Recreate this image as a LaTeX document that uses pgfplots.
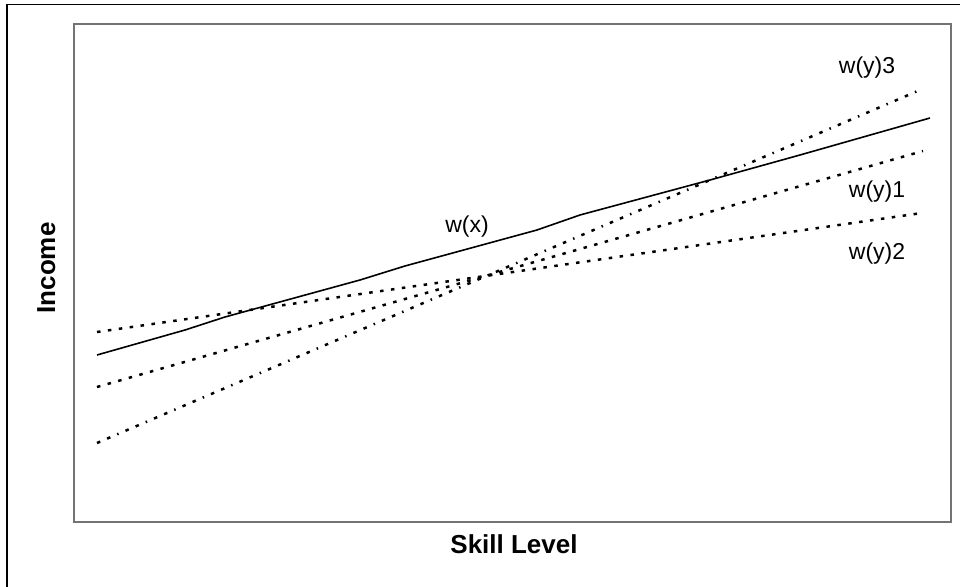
\documentclass[border=0pt]{standalone}
\usepackage{pgfplots}
\pgfplotsset{compat=1.18}
\usepackage{fontspec}
\setmainfont{Liberation Sans}
\begin{document}
\begin{tikzpicture}[x=1pt,y=1pt]
\useasboundingbox (0,0) rectangle (960,586);
\clip (0,0) rectangle (960,586);
\draw[black,line width=1.5pt] (7,-2) -- (7,581.5) -- (962,581.5);
\begin{axis}[
  at={(74,64)}, anchor=south west,
  scale only axis, width=877pt, height=498pt,
  xmin=74, xmax=951, ymin=64, ymax=562,
  xtick=\empty, ytick=\empty,
  axis line style={draw=gray!90!black, line width=1.5pt},
  clip=false,
]
\addplot[black, line width=1.6pt] coordinates {
 (97,231) (185,256) (225,269) (360,306) (405,320) (537,356) (580,371) (710,406) (800,431) (930,468)};
\addplot[black, line width=2.5pt, dash pattern=on 3.5pt off 7.5pt] coordinates {(97,199) (923,435)};
\addplot[black, line width=2.5pt, dash pattern=on 3.5pt off 7.5pt] coordinates {(97,254) (922,373)};
\addplot[black, line width=2.5pt, dash pattern=on 3.5pt off 7.5pt on 3.5pt off 7.5pt on 1.5pt off 7.5pt] coordinates {(97,143) (920,496)};
\node[anchor=base, font=\fontsize{23}{27}\selectfont] at (axis cs:467,353) {w(x)};
\node[anchor=base, font=\fontsize{23}{27}\selectfont] at (axis cs:867,512) {w(y)3};
\node[anchor=base, font=\fontsize{23}{27}\selectfont] at (axis cs:877,388) {w(y)1};
\node[anchor=base, font=\fontsize{23}{27}\selectfont] at (axis cs:877,326) {w(y)2};
\end{axis}
\node[anchor=base, font=\fontsize{26}{30}\selectfont\bfseries] at (514,33) {Skill Level};
\node[anchor=base, rotate=90, font=\fontsize{26}{30}\selectfont\bfseries] at (55,318) {Income};
\end{tikzpicture}
\end{document}
